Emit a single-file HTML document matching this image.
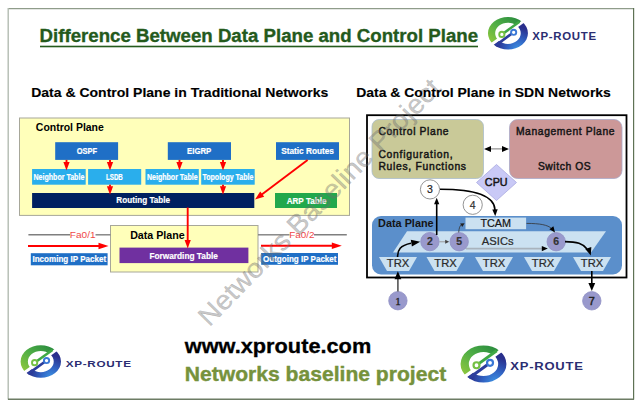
<!DOCTYPE html>
<html><head><meta charset="utf-8">
<style>html,body{margin:0;padding:0;background:#fff;}body{width:639px;height:405px;overflow:hidden;}svg{display:block;font-family:"Liberation Sans",sans-serif;}</style>
</head><body>
<svg width="639" height="405" viewBox="0 0 639 405">
<rect width="639" height="405" fill="#fff"/>
<line x1="8" y1="8.6" x2="634" y2="8.6" stroke="#8f9c8a" stroke-width="1.2"/>
<line x1="8.2" y1="8" x2="8.2" y2="399.5" stroke="#b3bcb1" stroke-width="1.4"/>
<line x1="633.6" y1="8" x2="633.6" y2="399.5" stroke="#5e7254" stroke-width="1.2"/>
<line x1="8" y1="399.2" x2="634" y2="399.2" stroke="#6d7c64" stroke-width="1.4"/>
<text x="39.55" y="42.20" font-size="19.19" font-weight="bold" fill="#245a1c" textLength="438.60" lengthAdjust="spacingAndGlyphs" font-family="Liberation Sans" stroke="#245a1c" stroke-width="0.35">Difference Between Data Plane and Control Plane</text>
<rect x="40" y="45.7" width="438.00" height="1.60" fill="#245a1c" />
<rect x="19.5" y="118" width="330" height="97.4" fill="#ffffba" stroke="#a7a79a" stroke-width="1"/>
<text x="35.88" y="130.90" font-size="10.32" font-weight="bold" fill="#000" textLength="67.94" lengthAdjust="spacingAndGlyphs" font-family="Liberation Sans" >Control Plane</text>
<rect x="55.2" y="142.2" width="62.90" height="17.70" fill="#1f6fc6" />
<text x="76.65" y="153.80" font-size="9.16" font-weight="bold" fill="#fff" textLength="20.40" lengthAdjust="spacingAndGlyphs" font-family="Liberation Sans" stroke="#fff" stroke-width="0.2">OSPF</text>
<rect x="167.8" y="142.2" width="63.20" height="17.70" fill="#1f6fc6" />
<text x="187.05" y="153.80" font-size="9.16" font-weight="bold" fill="#fff" textLength="24.20" lengthAdjust="spacingAndGlyphs" font-family="Liberation Sans" stroke="#fff" stroke-width="0.2">EIGRP</text>
<rect x="276" y="142.2" width="63.00" height="17.70" fill="#1f6fc6" />
<text x="281.15" y="153.80" font-size="9.16" font-weight="bold" fill="#fff" textLength="52.80" lengthAdjust="spacingAndGlyphs" font-family="Liberation Sans" stroke="#fff" stroke-width="0.2">Static Routes</text>
<rect x="32.1" y="169" width="53.60" height="15.70" fill="#2aaeec" />
<text x="33.48" y="179.80" font-size="8.72" font-weight="bold" fill="#fff" textLength="50.85" lengthAdjust="spacingAndGlyphs" font-family="Liberation Sans" stroke="#fff" stroke-width="0.2">Neighbor Table</text>
<rect x="88.1" y="169" width="53.10" height="15.70" fill="#2aaeec" />
<text x="105.98" y="179.80" font-size="8.72" font-weight="bold" fill="#fff" textLength="16.85" lengthAdjust="spacingAndGlyphs" font-family="Liberation Sans" stroke="#fff" stroke-width="0.2">LSDB</text>
<rect x="145.5" y="169" width="53.30" height="15.70" fill="#2aaeec" />
<text x="146.98" y="179.80" font-size="8.72" font-weight="bold" fill="#fff" textLength="50.75" lengthAdjust="spacingAndGlyphs" font-family="Liberation Sans" stroke="#fff" stroke-width="0.2">Neighbor Table</text>
<rect x="201.2" y="169" width="53.50" height="15.70" fill="#2aaeec" />
<text x="202.48" y="179.80" font-size="8.72" font-weight="bold" fill="#fff" textLength="50.95" lengthAdjust="spacingAndGlyphs" font-family="Liberation Sans" stroke="#fff" stroke-width="0.2">Topology Table</text>
<rect x="32.1" y="193" width="222.20" height="15.00" fill="#002060" />
<text x="116.34" y="203.30" font-size="9.30" font-weight="bold" fill="#fff" textLength="53.82" lengthAdjust="spacingAndGlyphs" font-family="Liberation Sans" stroke="#fff" stroke-width="0.2">Routing Table</text>
<rect x="275" y="193" width="62.00" height="15.00" fill="#22a84c" />
<text x="286.64" y="203.50" font-size="9.30" font-weight="bold" fill="#fff" textLength="39.92" lengthAdjust="spacingAndGlyphs" font-family="Liberation Sans" stroke="#fff" stroke-width="0.2">ARP Table</text>
<rect x="110.5" y="225.5" width="147.5" height="46.5" fill="#ffffba" stroke="#a7a79a" stroke-width="1"/>
<text x="130.15" y="238.80" font-size="10.90" font-weight="bold" fill="#000" textLength="54.51" lengthAdjust="spacingAndGlyphs" font-family="Liberation Sans" >Data Plane</text>
<rect x="119.5" y="247.6" width="128.90" height="15.50" fill="#7030a0" />
<text x="149.41" y="258.90" font-size="9.88" font-weight="bold" fill="#fff" textLength="68.49" lengthAdjust="spacingAndGlyphs" font-family="Liberation Sans" stroke="#fff" stroke-width="0.2">Forwarding Table</text>
<rect x="30.8" y="253.2" width="76.80" height="12.10" fill="#1f6fc6" />
<text x="32.44" y="261.80" font-size="9.30" font-weight="bold" fill="#fff" textLength="73.82" lengthAdjust="spacingAndGlyphs" font-family="Liberation Sans" stroke="#fff" stroke-width="0.2">Incoming IP Packet</text>
<rect x="261.2" y="253" width="76.80" height="11.80" fill="#1f6fc6" />
<text x="263.04" y="261.60" font-size="9.30" font-weight="bold" fill="#fff" textLength="73.42" lengthAdjust="spacingAndGlyphs" font-family="Liberation Sans" stroke="#fff" stroke-width="0.2">Outgoing IP Packet</text>
<g stroke="#7f7f7f" stroke-width="1.4"><line x1="28.4" y1="234.8" x2="70" y2="234.8"/><line x1="95.5" y1="234.8" x2="110.5" y2="234.8"/><line x1="258" y1="234.8" x2="289.5" y2="234.8"/><line x1="314" y1="234.8" x2="346.8" y2="234.8"/></g>
<text x="69.82" y="237.80" font-size="9.74" font-weight="normal" fill="#f04848" textLength="25.77" lengthAdjust="spacingAndGlyphs" font-family="Liberation Sans" >Fa0/1</text>
<text x="289.22" y="237.80" font-size="9.74" font-weight="normal" fill="#f04848" textLength="25.27" lengthAdjust="spacingAndGlyphs" font-family="Liberation Sans" >Fa0/2</text>
<line x1="66.50" y1="159.90" x2="66.50" y2="162.50" stroke="#ff0000" stroke-width="1.9"/><path d="M66.50,170.50 L63.40,162.00 L69.60,162.00 Z" fill="#ff0000"/>
<line x1="110.00" y1="159.90" x2="110.00" y2="162.50" stroke="#ff0000" stroke-width="1.9"/><path d="M110.00,170.50 L106.90,162.00 L113.10,162.00 Z" fill="#ff0000"/>
<line x1="110.00" y1="184.70" x2="110.00" y2="186.80" stroke="#ff0000" stroke-width="1.9"/><path d="M110.00,194.80 L106.90,186.30 L113.10,186.30 Z" fill="#ff0000"/>
<line x1="179.50" y1="159.90" x2="179.50" y2="162.50" stroke="#ff0000" stroke-width="1.9"/><path d="M179.50,170.50 L176.40,162.00 L182.60,162.00 Z" fill="#ff0000"/>
<line x1="223.00" y1="159.90" x2="223.00" y2="162.50" stroke="#ff0000" stroke-width="1.9"/><path d="M223.00,170.50 L219.90,162.00 L226.10,162.00 Z" fill="#ff0000"/>
<line x1="223.00" y1="184.70" x2="223.00" y2="186.80" stroke="#ff0000" stroke-width="1.9"/><path d="M223.00,194.80 L219.90,186.30 L226.10,186.30 Z" fill="#ff0000"/>
<line x1="187.70" y1="207.50" x2="187.70" y2="240.50" stroke="#ff0000" stroke-width="1.9"/><path d="M187.70,248.50 L184.60,240.00 L190.80,240.00 Z" fill="#ff0000"/>
<line x1="307.60" y1="160.00" x2="261.80" y2="194.40" stroke="#ff0000" stroke-width="1.9"/><path d="M255.00,199.50 L260.22,191.46 L264.18,196.73 Z" fill="#ff0000"/>
<line x1="28.00" y1="246.00" x2="99.00" y2="246.00" stroke="#ff0000" stroke-width="1.9"/><path d="M108.50,246.00 L98.50,249.20 L98.50,242.80 Z" fill="#ff0000"/>
<line x1="261.00" y1="245.80" x2="332.30" y2="245.80" stroke="#ff0000" stroke-width="1.9"/><path d="M341.80,245.80 L331.80,249.00 L331.80,242.60 Z" fill="#ff0000"/>
<rect x="367" y="115.2" width="259.5" height="162.3" fill="none" stroke="#000" stroke-width="1.8"/>
<rect x="372" y="119.5" width="111.5" height="59" rx="7" fill="#c9c998" stroke="#aabccc" stroke-width="0.8"/>
<rect x="509.5" y="119.5" width="112.5" height="59" rx="8" fill="#cc9898" stroke="#a9a9c9" stroke-width="0.8"/>
<line x1="489" y1="148.9" x2="504" y2="148.9" stroke="#555" stroke-width="0.8"/>
<path d="M484,149 l7,-3 v6 z M509,149 l-7,-3 v6 z" fill="#000"/>
<path d="M496.5,164.5 L516.5,182.5 L496.5,200.5 L476.5,182.5 Z" fill="#c9c9f6" stroke="#a9a9e0" stroke-width="0.8"/>
<rect x="372" y="216" width="250" height="58.5" rx="9" fill="#5b8fcb"/>
<rect x="465.5" y="217.6" width="60.60" height="11.60" fill="#cbe1f1" />
<path d="M407,231.2 L606,231.2 L591,252.6 L393,252.6 Z" fill="#cbe1f1"/>
<path d="M379,257 L417,257 L409,271 L387,271 Z" fill="#cbe1f1"/>
<path d="M426.5,257 L464.5,257 L456.5,271 L434.5,271 Z" fill="#cbe1f1"/>
<path d="M475,257 L513,257 L505,271 L483,271 Z" fill="#cbe1f1"/>
<path d="M524,257 L562,257 L554,271 L532,271 Z" fill="#cbe1f1"/>
<path d="M573,257 L611,257 L603,271 L581,271 Z" fill="#cbe1f1"/>
<g fill="#fff" stroke="#888" stroke-width="0.9"><circle cx="430" cy="189.4" r="9.6"/><circle cx="472.7" cy="204.8" r="9.6"/></g>
<g fill="#9999cc" stroke="#8f8fc4" stroke-width="0.8"><circle cx="429.9" cy="241.6" r="9.2"/><circle cx="459.2" cy="241.7" r="9.2"/><circle cx="556.2" cy="241.7" r="9.2"/><circle cx="397.9" cy="300.7" r="9.2"/><circle cx="591.8" cy="300.8" r="9.2"/></g>
<g fill="none" stroke="#000" stroke-width="1.6"><path d="M397.6,257 C397.6,250 400,245.5 411,243.3"/><path d="M436.7,235 L436.7,203"/><path d="M440,189.3 C474,189.3 494.5,195 495,210"/><path d="M565,241.6 C577,241.6 583,243.5 587,249"/><path d="M591.8,271 L591.8,285"/></g>
<path d="M397.9,291.5 L397.9,278" stroke="#555" stroke-width="1.6"/>
<path d="M420.20,241.70 L411.90,246.56 L410.76,239.86 Z" fill="#000"/>
<path d="M436.70,197.80 L439.30,204.30 L434.10,204.30 Z" fill="#000"/>
<path d="M495.20,216.30 L492.29,209.38 L497.69,209.22 Z" fill="#000"/>
<path d="M590.80,255.50 L585.25,248.91 L591.33,246.90 Z" fill="#000"/>
<path d="M591.80,291.00 L588.40,283.00 L595.20,283.00 Z" fill="#000"/>
<path d="M397.90,271.30 L401.30,279.30 L394.50,279.30 Z" fill="#000"/>
<g fill="none" stroke="#333" stroke-width="0.8"><path d="M439.5,241.8 L446,241.8" stroke="#999" stroke-width="1"/><path d="M458.7,232.4 C459,228 460,225.5 461.5,224.5"/><path d="M526.5,223.4 C540,223.4 548,225 551.5,228.5"/></g>
<path d="M466,248.6 L542,248.6" stroke="#a9b3bd" stroke-width="1.6"/>
<path d="M449.20,241.80 L445.20,243.80 L445.20,239.80 Z" fill="#444"/>
<path d="M464.60,223.20 L462.20,226.97 L460.14,223.54 Z" fill="#222"/>
<path d="M555.00,232.50 L549.40,229.20 L553.40,226.20 Z" fill="#000"/>
<path d="M547.80,248.60 L541.80,251.20 L541.80,246.00 Z" fill="#000"/>
<text x="378.38" y="134.50" font-size="10.32" font-weight="normal" fill="#151515" textLength="70.14" lengthAdjust="spacing" font-family="Liberation Sans" stroke="#151515" stroke-width="0.45">Control Plane</text>
<text x="378.38" y="158.40" font-size="10.32" font-weight="normal" fill="#151515" textLength="74.24" lengthAdjust="spacing" font-family="Liberation Sans" stroke="#151515" stroke-width="0.45">Configuration,</text>
<text x="378.38" y="169.60" font-size="10.32" font-weight="normal" fill="#151515" textLength="87.64" lengthAdjust="spacing" font-family="Liberation Sans" stroke="#151515" stroke-width="0.45">Rules, Functions</text>
<text x="515.88" y="134.50" font-size="10.32" font-weight="normal" fill="#151515" textLength="98.64" lengthAdjust="spacing" font-family="Liberation Sans" stroke="#151515" stroke-width="0.45">Management Plane</text>
<text x="537.88" y="170.00" font-size="10.32" font-weight="normal" fill="#151515" textLength="52.74" lengthAdjust="spacing" font-family="Liberation Sans" stroke="#151515" stroke-width="0.45">Switch OS</text>
<text x="484.89" y="185.60" font-size="10.17" font-weight="normal" fill="#151515" textLength="22.72" lengthAdjust="spacingAndGlyphs" font-family="Liberation Sans" stroke="#151515" stroke-width="0.45">CPU</text>
<text x="378.09" y="226.80" font-size="10.17" font-weight="bold" fill="#151515" textLength="55.52" lengthAdjust="spacingAndGlyphs" font-family="Liberation Sans" >Data Plane</text>
<text x="480.40" y="226.80" font-size="10.03" font-weight="normal" fill="#151515" textLength="30.70" lengthAdjust="spacingAndGlyphs" font-family="Liberation Sans" stroke="#151515" stroke-width="0.2">TCAM</text>
<text x="481.89" y="245.30" font-size="10.17" font-weight="normal" fill="#2a2a2a" textLength="31.72" lengthAdjust="spacingAndGlyphs" font-family="Liberation Sans" stroke="#2a2a2a" stroke-width="0.2">ASICs</text>
<text x="386.79" y="267.10" font-size="10.17" font-weight="normal" fill="#2a2a2a" textLength="22.42" lengthAdjust="spacingAndGlyphs" font-family="Liberation Sans" stroke="#2a2a2a" stroke-width="0.2">TRX</text>
<text x="434.29" y="267.10" font-size="10.17" font-weight="normal" fill="#2a2a2a" textLength="22.42" lengthAdjust="spacingAndGlyphs" font-family="Liberation Sans" stroke="#2a2a2a" stroke-width="0.2">TRX</text>
<text x="482.79" y="267.10" font-size="10.17" font-weight="normal" fill="#2a2a2a" textLength="22.42" lengthAdjust="spacingAndGlyphs" font-family="Liberation Sans" stroke="#2a2a2a" stroke-width="0.2">TRX</text>
<text x="531.79" y="267.10" font-size="10.17" font-weight="normal" fill="#2a2a2a" textLength="22.42" lengthAdjust="spacingAndGlyphs" font-family="Liberation Sans" stroke="#2a2a2a" stroke-width="0.2">TRX</text>
<text x="580.79" y="267.10" font-size="10.17" font-weight="normal" fill="#2a2a2a" textLength="22.42" lengthAdjust="spacingAndGlyphs" font-family="Liberation Sans" stroke="#2a2a2a" stroke-width="0.2">TRX</text>
<text x="430" y="193.1" font-size="10.5" text-anchor="middle" fill="#222" font-weight="normal" stroke="#222" stroke-width="0.2">3</text>
<text x="472.7" y="208.5" font-size="10.5" text-anchor="middle" fill="#333" font-weight="normal" stroke="#333" stroke-width="0.2">4</text>
<text x="429.9" y="245.29999999999998" font-size="10.5" text-anchor="middle" fill="#333" font-weight="bold" stroke="#333" stroke-width="0.2">2</text>
<text x="459.2" y="245.39999999999998" font-size="10.5" text-anchor="middle" fill="#333" font-weight="bold" stroke="#333" stroke-width="0.2">5</text>
<text x="556.2" y="245.39999999999998" font-size="10.5" text-anchor="middle" fill="#333" font-weight="bold" stroke="#333" stroke-width="0.2">6</text>
<text x="397.9" y="304.9" font-size="11" text-anchor="middle" fill="#222" font-family="Liberation Serif" stroke="#222" stroke-width="0.35">1</text>
<text x="591.8" y="304.7" font-size="10.8" text-anchor="middle" fill="#222" stroke="#222" stroke-width="0.5">7</text>
<text x="0" y="0" font-size="27" fill="#6e6e6e" fill-opacity="0.40" stroke="#6e6e6e" stroke-opacity="0.40" stroke-width="0.35" text-anchor="middle" transform="translate(325.8,208.5) rotate(-45.6)" textLength="333" lengthAdjust="spacingAndGlyphs">Networks Baseline Project</text>
<text x="31.21" y="96.90" font-size="13.23" font-weight="bold" fill="#000" textLength="297.09" lengthAdjust="spacingAndGlyphs" font-family="Liberation Sans" stroke="#000" stroke-width="0.15">Data &amp; Control Plane in Traditional Networks</text>
<text x="356.21" y="96.90" font-size="13.23" font-weight="bold" fill="#000" textLength="254.59" lengthAdjust="spacingAndGlyphs" font-family="Liberation Sans" stroke="#000" stroke-width="0.15">Data &amp; Control Plane in SDN Networks</text>
<text x="184.77" y="352.60" font-size="20.50" font-weight="bold" fill="#000" textLength="186.46" lengthAdjust="spacingAndGlyphs" font-family="Liberation Sans" stroke="#000" stroke-width="0.3">www.xproute.com</text>
<text x="184.80" y="381.40" font-size="20.06" font-weight="bold" fill="#76923c" textLength="261.41" lengthAdjust="spacingAndGlyphs" font-family="Liberation Sans" stroke="#76923c" stroke-width="0.4">Networks baseline project</text>

<defs>
<linearGradient id="gG" x1="0" y1="1" x2="1" y2="0"><stop offset="0" stop-color="#a6d13a"/><stop offset="0.5" stop-color="#4fae46"/><stop offset="1" stop-color="#1c7f3b"/></linearGradient>
<radialGradient id="gB" gradientUnits="userSpaceOnUse" cx="10" cy="16" r="22"><stop offset="0" stop-color="#3d92e2"/><stop offset="0.45" stop-color="#3164c4"/><stop offset="1" stop-color="#2a2f8c"/></radialGradient>
<clipPath id="cG"><path d="M-30,-30 L30,-30 L30,-22 L-30,22 L-30,30 Z" transform="rotate(0)"/></clipPath>
<g id="logo">
 <g clip-path="url(#cUL)"><path fill-rule="evenodd" fill="url(#gG)" d="M-20,0 A20,16.3 0 1 1 20,0 A20,16.3 0 1 1 -20,0 Z M-12.8,0 A12.8,10.6 0 1 0 12.8,0 A12.8,10.6 0 1 0 -12.8,0 Z"/></g>
 <g clip-path="url(#cLR)"><path fill-rule="evenodd" fill="url(#gB)" d="M-20,0 A20,16.3 0 1 1 20,0 A20,16.3 0 1 1 -20,0 Z M-12.8,0 A12.8,10.6 0 1 0 12.8,0 A12.8,10.6 0 1 0 -12.8,0 Z"/></g>
 <line x1="11.5" y1="-11.6" x2="-4.4" y2="-0.1" stroke="#3fa845" stroke-width="2.6"/>
 <circle cx="-6.1" cy="1.1" r="2.6" fill="#fff" stroke="#74c043" stroke-width="1.9"/>
 <line x1="-12.5" y1="12.3" x2="4.0" y2="0.2" stroke="#2c3d9c" stroke-width="2.6"/>
 <circle cx="5.7" cy="-1.0" r="2.6" fill="#fff" stroke="#3a78d6" stroke-width="1.9"/>
</g>
<clipPath id="cUL"><polygon points="-40,-40 40,-40 40,-31.6 -40,26.4"/></clipPath>
<clipPath id="cLR"><polygon points="40,40 -40,40 -40,30.1 40,-27.9"/></clipPath>
</defs>

<use href="#logo" transform="translate(507.95,33.3)"/>
<use href="#logo" transform="translate(40.8,361.55) scale(1.01,1.0)"/>
<use href="#logo" transform="translate(483.5,364) scale(1.147,1.138)"/>
<text transform="translate(532.20,39.50) scale(1.126,1)" x="0" y="0" font-size="10.17" font-weight="bold" fill="#2b2e72" letter-spacing="0.60">XP-ROUTE</text>
<text transform="translate(65.70,367.30) scale(1.222,1)" x="0" y="0" font-size="9.59" font-weight="bold" fill="#2b2e72" letter-spacing="0.56">XP-ROUTE</text>
<text transform="translate(510.30,370.10) scale(1.212,1)" x="0" y="0" font-size="10.76" font-weight="bold" fill="#2b2e72" letter-spacing="0.63">XP-ROUTE</text>
</svg>
</body></html>
